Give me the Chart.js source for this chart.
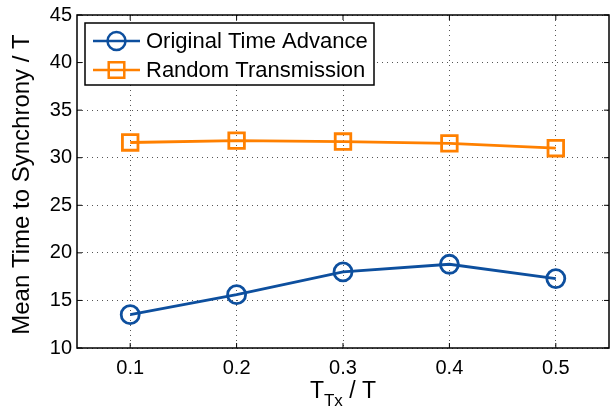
<!DOCTYPE html>
<html>
<head>
<meta charset="utf-8">
<script src="https://cdn.jsdelivr.net/npm/chart.js@4"></script>
<style>
  html, body { margin: 0; padding: 0; background: #fff; }
  #wrap { width: 615px; height: 414px; }
</style>
</head>
<body>
<div id="wrap"><canvas id="chart" width="615" height="414"></canvas></div>
<script>
// data
const ratios = [0.1, 0.2, 0.3, 0.4, 0.5];
const originalTimeAdvance = [13.5, 15.6, 18.0, 18.8, 17.3];
const randomTransmission = [31.6, 31.8, 31.7, 31.5, 31.0];
const yTicks = [10, 15, 20, 25, 30, 35, 40, 45];

const FONT = '"Liberation Sans", Arial, sans-serif';
const BLUE = '#0d4f9e';
const ORANGE = '#ff8000';

// box, inner ticks, titles and legend like the matlab figure
const decorations = {
    id: 'decorations',
    afterDraw(chart) {
        const { ctx, chartArea: a, scales } = chart;
        ctx.save();

        // inner tick marks on all four sides
        ctx.strokeStyle = '#000';
        ctx.lineWidth = 1;
        ctx.beginPath();
        ratios.forEach(v => {
            const x = scales.x.getPixelForValue(v);
            ctx.moveTo(x, a.bottom); ctx.lineTo(x, a.bottom - 5);
            ctx.moveTo(x, a.top); ctx.lineTo(x, a.top + 5);
        });
        yTicks.forEach(v => {
            const y = scales.y.getPixelForValue(v);
            ctx.moveTo(a.left, y); ctx.lineTo(a.left + 5, y);
            ctx.moveTo(a.right, y); ctx.lineTo(a.right - 5, y);
        });
        ctx.stroke();

        ctx.lineWidth = 1.5;
        ctx.strokeRect(a.left, a.top, a.right - a.left, a.bottom - a.top);

        // y title
        ctx.fillStyle = '#000';
        ctx.font = '24px ' + FONT;
        ctx.textAlign = 'center';
        ctx.textBaseline = 'middle';
        ctx.translate(22, (a.top + a.bottom) / 2 + 3);
        ctx.rotate(-Math.PI / 2);
        ctx.fillText('Mean Time to Synchrony / T', 0, 0);
        ctx.setTransform(1, 0, 0, 1, 0, 0);

        // x title with subscript
        ctx.textBaseline = 'alphabetic';
        ctx.textAlign = 'left';
        const big = '23px ' + FONT, small = '17px ' + FONT;
        ctx.font = big; const wT = ctx.measureText('T').width;
        ctx.font = small; const wSub = ctx.measureText('Tx').width;
        ctx.font = big; const wRest = ctx.measureText(' / T').width;
        let x0 = (a.left + a.right) / 2 - (wT + wSub + wRest) / 2;
        const base = 398;
        ctx.fillText('T', x0, base);
        ctx.font = small;
        ctx.fillText('Tx', x0 + wT, base + 8);
        ctx.font = big;
        ctx.fillText(' / T', x0 + wT + wSub, base);

        // legend
        const lx = 85, ly = 23, lw = 289, lh = 62;
        ctx.fillStyle = '#fff';
        ctx.fillRect(lx, ly, lw, lh);
        ctx.lineWidth = 1.5;
        ctx.strokeStyle = '#000';
        ctx.strokeRect(lx, ly, lw, lh);
        chart.data.datasets.forEach((ds, i) => {
            const cy = ly + 18 + i * 29;
            ctx.strokeStyle = ds.borderColor;
            ctx.lineWidth = 2.5;
            ctx.beginPath();
            ctx.moveTo(93, cy); ctx.lineTo(140, cy);
            ctx.stroke();
            ctx.beginPath();
            if (ds.pointStyle === 'circle') {
                ctx.arc(116.5, cy, ds.pointRadius, 0, Math.PI * 2);
            } else {
                const s = ds.pointRadius * Math.SQRT1_2;
                ctx.rect(116.5 - s, cy - s, 2 * s, 2 * s);
            }
            ctx.stroke();
            ctx.fillStyle = '#000';
            ctx.font = '22px ' + FONT;
            ctx.textBaseline = 'middle';
            ctx.fillText(ds.label, 146, cy + 1);
        });
        ctx.restore();
    }
};

new Chart(document.getElementById('chart'), {
    type: 'line',
    data: {
        datasets: [
            {
                label: 'Original Time Advance',
                data: ratios.map((r, i) => ({ x: r, y: originalTimeAdvance[i] })),
                borderColor: BLUE,
                borderWidth: 2.8,
                pointStyle: 'circle',
                pointRadius: 9,
                pointBorderWidth: 2.8,
                pointBackgroundColor: 'rgba(0,0,0,0)',
                pointBorderColor: BLUE
            },
            {
                label: 'Random Transmission',
                data: ratios.map((r, i) => ({ x: r, y: randomTransmission[i] })),
                borderColor: ORANGE,
                borderWidth: 2.8,
                pointStyle: 'rect',
                pointRadius: 11,
                pointBorderWidth: 2.8,
                pointBackgroundColor: 'rgba(0,0,0,0)',
                pointBorderColor: ORANGE
            }
        ]
    },
    options: {
        responsive: false,
        animation: false,
        layout: {
            autoPadding: false, // otherwise the marker size adds room on the right
            padding: { left: 0, right: 6, top: 15, bottom: 0 }
        },
        plugins: {
            legend: { display: false },
            tooltip: { enabled: false }
        },
        scales: {
            x: {
                type: 'linear',
                min: 0.05,
                max: 0.55,
                afterBuildTicks: scale => { scale.ticks = ratios.map(v => ({ value: v })); },
                afterFit: scale => {
                    scale.height = 66;
                    scale.paddingLeft = 0;
                    scale.paddingRight = 0;
                },
                ticks: {
                    color: '#000',
                    font: { family: FONT, size: 20 },
                    padding: 8,
                    callback: v => v.toFixed(1)
                },
                grid: { color: '#555', lineWidth: 1, drawTicks: false },
                border: { display: false, dash: [1, 4] }
            },
            y: {
                min: 10,
                max: 45,
                afterBuildTicks: scale => { scale.ticks = yTicks.map(v => ({ value: v })); },
                afterFit: scale => {
                    scale.width = 77;
                    scale.paddingTop = 0;
                    scale.paddingBottom = 0;
                },
                ticks: {
                    color: '#000',
                    font: { family: FONT, size: 20 },
                    padding: 5
                },
                grid: { color: '#555', lineWidth: 1, drawTicks: false },
                border: { display: false, dash: [1, 4] }
            }
        }
    },
    plugins: [decorations]
});
</script>
</body>
</html>
